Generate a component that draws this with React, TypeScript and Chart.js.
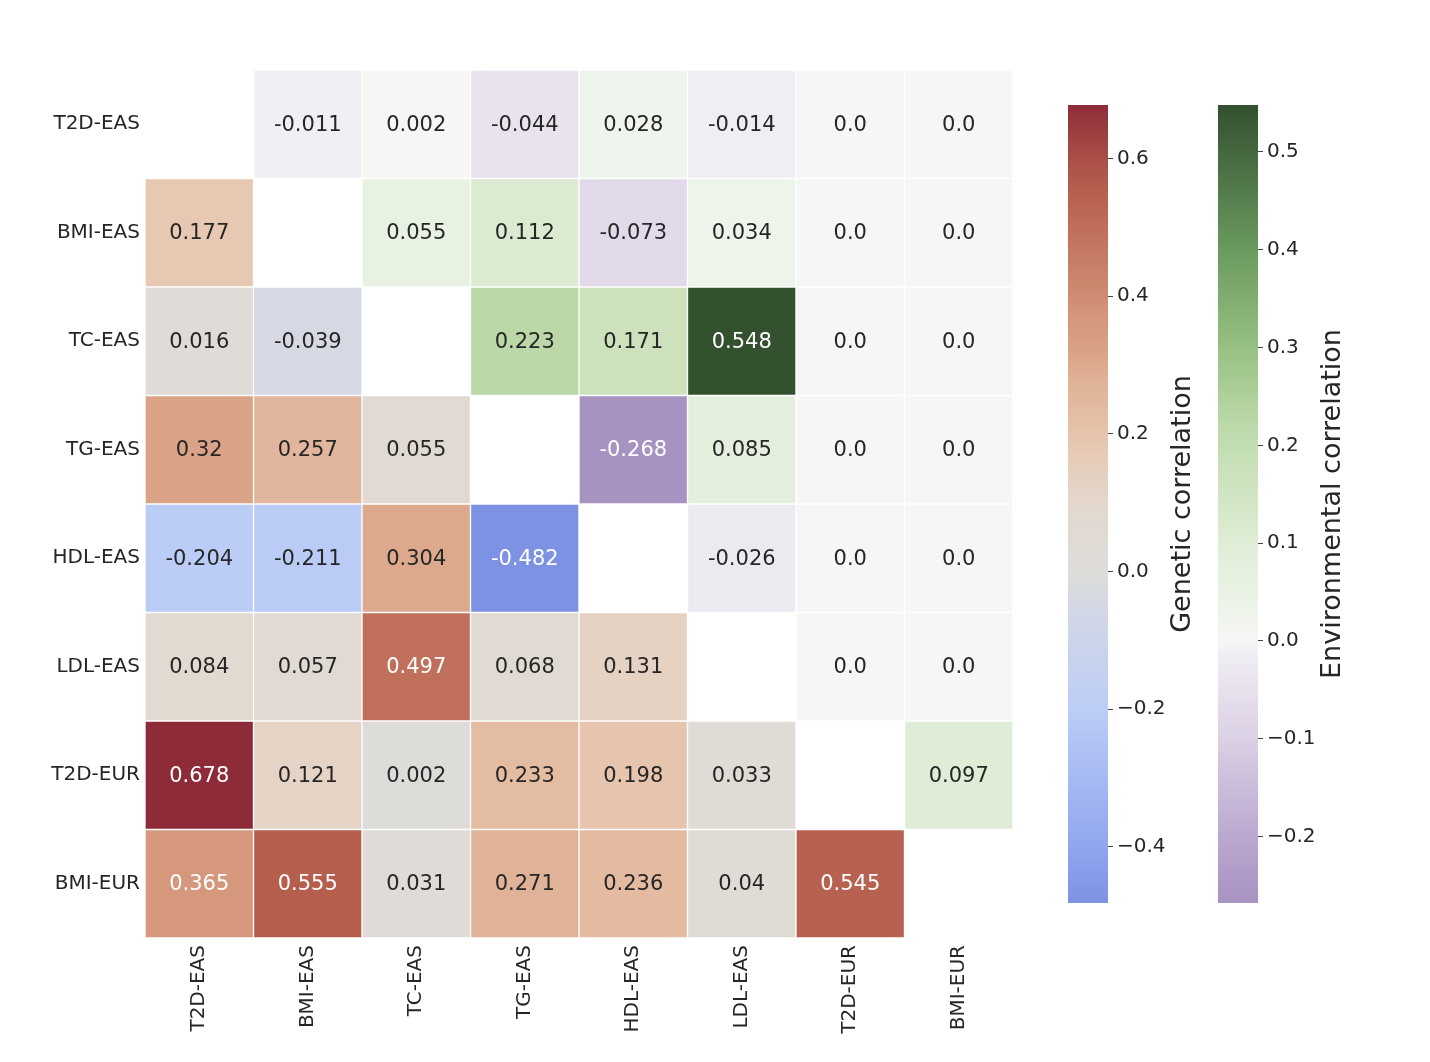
import React, { useEffect, useRef } from "react";
import { Chart, registerables } from "chart.js";

Chart.register(...registerables);
Chart.defaults.font.family = '"DejaVu Sans", "Liberation Sans", sans-serif';

// ---------- data ----------
const traits = ["T2D-EAS", "BMI-EAS", "TC-EAS", "TG-EAS", "HDL-EAS", "LDL-EAS", "T2D-EUR", "BMI-EUR"];

// lower triangle: row i holds columns 0..i-1
const genetic: number[][] = [
  [],
  [0.177],
  [0.016, -0.039],
  [0.32, 0.257, 0.055],
  [-0.204, -0.211, 0.304, -0.482],
  [0.084, 0.057, 0.497, 0.068, 0.131],
  [0.678, 0.121, 0.002, 0.233, 0.198, 0.033],
  [0.365, 0.555, 0.031, 0.271, 0.236, 0.04, 0.545],
];

// upper triangle: row i holds columns i+1..7
const environmental: number[][] = [
  [-0.011, 0.002, -0.044, 0.028, -0.014, 0.0, 0.0],
  [0.055, 0.112, -0.073, 0.034, 0.0, 0.0],
  [0.223, 0.171, 0.548, 0.0, 0.0],
  [-0.268, 0.085, 0.0, 0.0],
  [-0.026, 0.0, 0.0],
  [0.0, 0.0],
  [0.097],
  [],
];

const geneticRange = [-0.482, 0.678];
const environmentalRange = [-0.268, 0.548];
const geneticTicks = [-0.4, -0.2, 0, 0.2, 0.4, 0.6];
const environmentalTicks = [-0.2, -0.1, 0, 0.1, 0.2, 0.3, 0.4, 0.5];

// ---------- colour maps (style) ----------
const geneticStops: [number, string][] = [
  [-0.482, "#7e92e4"],
  [-0.4, "#91a6ef"],
  [-0.2, "#bccdf6"],
  [-0.039, "#d6d9e4"],
  [0.0, "#dedcd9"],
  [0.084, "#e2d9d0"],
  [0.121, "#e5d4c6"],
  [0.177, "#e7c9b3"],
  [0.233, "#e4bca2"],
  [0.271, "#e0b398"],
  [0.304, "#dca98d"],
  [0.32, "#daa286"],
  [0.365, "#d5987d"],
  [0.4, "#cf8c72"],
  [0.497, "#c0705a"],
  [0.55, "#b6604f"],
  [0.6, "#aa4f47"],
  [0.678, "#8d2c38"],
];

const environmentalStops: [number, string][] = [
  [-0.268, "#a792c1"],
  [-0.2, "#bba8d0"],
  [-0.1, "#dbd0e4"],
  [-0.073, "#e2d9ea"],
  [-0.044, "#e9e3ee"],
  [-0.014, "#f0edf3"],
  [0.0, "#f6f6f6"],
  [0.028, "#eff4ec"],
  [0.055, "#e8f2e2"],
  [0.085, "#e3efdc"],
  [0.112, "#dbebd1"],
  [0.171, "#cbe2bc"],
  [0.223, "#bbd8a8"],
  [0.3, "#97c182"],
  [0.4, "#6a9a5e"],
  [0.5, "#45673f"],
  [0.548, "#33502f"],
];

const FONT = '"DejaVu Sans", "Liberation Sans", sans-serif';
const DARK = "#262626";

function hexToRgb(h: string): number[] {
  const n = parseInt(h.slice(1), 16);
  return [(n >> 16) & 255, (n >> 8) & 255, n & 255];
}

function colorAt(stops: [number, string][], v: number): number[] {
  if (v <= stops[0][0]) return hexToRgb(stops[0][1]);
  for (let i = 1; i < stops.length; i++) {
    if (v <= stops[i][0]) {
      const [v0, c0] = stops[i - 1];
      const [v1, c1] = stops[i];
      const t = (v - v0) / (v1 - v0);
      const a = hexToRgb(c0);
      const b = hexToRgb(c1);
      return a.map((x, k) => Math.round(x + (b[k] - x) * t));
    }
  }
  return hexToRgb(stops[stops.length - 1][1]);
}

function rgbStr(c: number[]) {
  return `rgb(${c[0]},${c[1]},${c[2]})`;
}

function luminance(c: number[]) {
  const lin = c.map((x) => {
    const s = x / 255;
    return s <= 0.03928 ? s / 12.92 : Math.pow((s + 0.055) / 1.055, 2.4);
  });
  return 0.2126 * lin[0] + 0.7152 * lin[1] + 0.0722 * lin[2];
}

function cellValue(r: number, c: number): number | null {
  if (c < r) return genetic[r][c];
  if (c > r) return environmental[r][c - r - 1];
  return null;
}

function cellColor(r: number, c: number): number[] | null {
  const v = cellValue(r, c);
  if (v === null) return null;
  return c < r ? colorAt(geneticStops, v) : colorAt(environmentalStops, v);
}

function fmtCell(v: number) {
  return v === 0 ? "0.0" : String(v);
}

function fmtTick(v: number) {
  if (Math.abs(v) < 1e-9) return "0.0";
  return (v < 0 ? "\u2212" : "") + Math.abs(v).toFixed(1);
}

// ---------- heatmap ----------
function Heatmap() {
  const ref = useRef<HTMLCanvasElement>(null);
  useEffect(() => {
    const datasets = traits.map((_, r) => ({
      data: traits.map((__, c) => (c === r ? null : [r, r + 1])) as any,
      backgroundColor: traits.map((__, c) => {
        const col = cellColor(r, c);
        return col ? rgbStr(col) : "rgba(0,0,0,0)";
      }),
      borderColor: "#ffffff",
      borderWidth: 1,
      borderSkipped: false as any,
      barPercentage: 1,
      categoryPercentage: 1,
      grouped: false,
    }));

    const annotate = {
      id: "annotate",
      afterDatasetsDraw(chart: any) {
        const ctx = chart.ctx;
        ctx.save();
        ctx.font = `21px ${FONT}`;
        ctx.textAlign = "center";
        ctx.textBaseline = "middle";
        chart.data.datasets.forEach((_: any, r: number) => {
          const meta = chart.getDatasetMeta(r);
          meta.data.forEach((el: any, c: number) => {
            const v = cellValue(r, c);
            if (v === null) return;
            const col = cellColor(r, c)!;
            const p = el.getProps(["x", "y", "base"], true);
            ctx.fillStyle = luminance(col) > 0.408 ? DARK : "#ffffff";
            ctx.fillText(fmtCell(v), p.x, (p.y + p.base) / 2 + 1);
          });
        });
        ctx.restore();
      },
    };

    const chart = new Chart(ref.current!, {
      type: "bar",
      data: { labels: traits, datasets },
      options: {
        animation: false,
        responsive: true,
        maintainAspectRatio: false,
        layout: { padding: { top: 70, right: 27, left: 0, bottom: 0 } },
        plugins: { legend: { display: false }, tooltip: { enabled: false } },
        scales: {
          x: {
            type: "category",
            grid: { display: false, drawTicks: false },
            border: { display: false },
            ticks: {
              autoSkip: false,
              minRotation: 90,
              maxRotation: 90,
              padding: 7,
              color: DARK,
              font: { size: 20, family: FONT },
            },
            afterFit: (s: any) => {
              s.height = 124;
            },
          },
          y: {
            type: "linear",
            min: 0,
            max: traits.length,
            reverse: true,
            grid: { display: false, drawTicks: false },
            border: { display: false },
            afterBuildTicks: (s: any) => {
              s.ticks = traits.map((_, i) => ({ value: i + 0.5 }));
            },
            ticks: {
              autoSkip: false,
              padding: 5,
              color: DARK,
              font: { size: 20, family: FONT },
              callback: (v: any) => traits[Math.floor(Number(v))],
            },
            afterFit: (s: any) => {
              s.width = 145;
            },
          },
        },
      },
      plugins: [annotate],
    });
    return () => chart.destroy();
  }, []);
  return <canvas ref={ref} />;
}

// ---------- colour bars ----------
function Colorbar(props: {
  range: number[];
  ticks: number[];
  stops: [number, string][];
  title: string;
  padLeft: number;
  axisWidth: number;
}) {
  const ref = useRef<HTMLCanvasElement>(null);
  useEffect(() => {
    const { range, ticks, stops, title, padLeft, axisWidth } = props;
    const titlePlugin = {
      id: "cbTitle",
      afterDraw(chart: any) {
        const { ctx, chartArea } = chart;
        ctx.save();
        ctx.translate(chartArea.right + 75, (chartArea.top + chartArea.bottom) / 2);
        ctx.rotate(-Math.PI / 2);
        ctx.font = `27px ${FONT}`;
        ctx.fillStyle = DARK;
        ctx.textAlign = "center";
        ctx.textBaseline = "middle";
        ctx.fillText(title, 0, 0);
        ctx.restore();
      },
    };
    const chart = new Chart(ref.current!, {
      type: "bar",
      data: {
        labels: [""],
        datasets: [
          {
            data: [[range[0], range[1]]] as any,
            barPercentage: 1,
            categoryPercentage: 1,
            borderWidth: 0,
            backgroundColor: (c: any) => {
              const ch = c.chart;
              if (!ch.chartArea) return "rgba(0,0,0,0)";
              const ys = ch.scales.y;
              const y0 = ys.getPixelForValue(range[0]);
              const y1 = ys.getPixelForValue(range[1]);
              const g = ch.ctx.createLinearGradient(0, y0, 0, y1);
              for (const [v, col] of stops) {
                const t = Math.min(1, Math.max(0, (v - range[0]) / (range[1] - range[0])));
                g.addColorStop(t, col);
              }
              return g;
            },
          },
        ],
      },
      options: {
        animation: false,
        responsive: true,
        maintainAspectRatio: false,
        layout: { padding: { top: 105, bottom: 159, left: padLeft, right: 0 } },
        plugins: { legend: { display: false }, tooltip: { enabled: false } },
        scales: {
          x: { type: "category", display: false },
          y: {
            type: "linear",
            position: "right",
            min: range[0],
            max: range[1],
            grid: {
              display: true,
              drawOnChartArea: false,
              drawTicks: true,
              tickLength: 5,
              color: "#444444",
              lineWidth: 1,
            },
            border: { display: false },
            afterBuildTicks: (s: any) => {
              s.ticks = ticks.map((v) => ({ value: v }));
            },
            ticks: {
              autoSkip: false,
              padding: 4,
              color: DARK,
              font: { size: 20, family: FONT },
              callback: (v: any) => fmtTick(Number(v)),
            },
            afterFit: (s: any) => {
              s.width = axisWidth;
            },
          },
        },
      },
      plugins: [titlePlugin],
    });
    return () => chart.destroy();
  }, []);
  return <canvas ref={ref} />;
}

export default function App() {
  return (
    <div
      style={{
        position: "absolute",
        left: 0,
        top: 0,
        width: 1430,
        height: 1062,
        background: "#ffffff",
        overflow: "hidden",
      }}
    >
      <div style={{ position: "absolute", left: 0, top: 0, width: 1040, height: 1062 }}>
        <Heatmap />
      </div>
      <div style={{ position: "absolute", left: 1040, top: 0, width: 170, height: 1062 }}>
        <Colorbar
          range={geneticRange}
          ticks={geneticTicks}
          stops={geneticStops}
          title="Genetic correlation"
          padLeft={28}
          axisWidth={102}
        />
      </div>
      <div style={{ position: "absolute", left: 1210, top: 0, width: 220, height: 1062 }}>
        <Colorbar
          range={environmentalRange}
          ticks={environmentalTicks}
          stops={environmentalStops}
          title="Environmental correlation"
          padLeft={8}
          axisWidth={172}
        />
      </div>
    </div>
  );
}
